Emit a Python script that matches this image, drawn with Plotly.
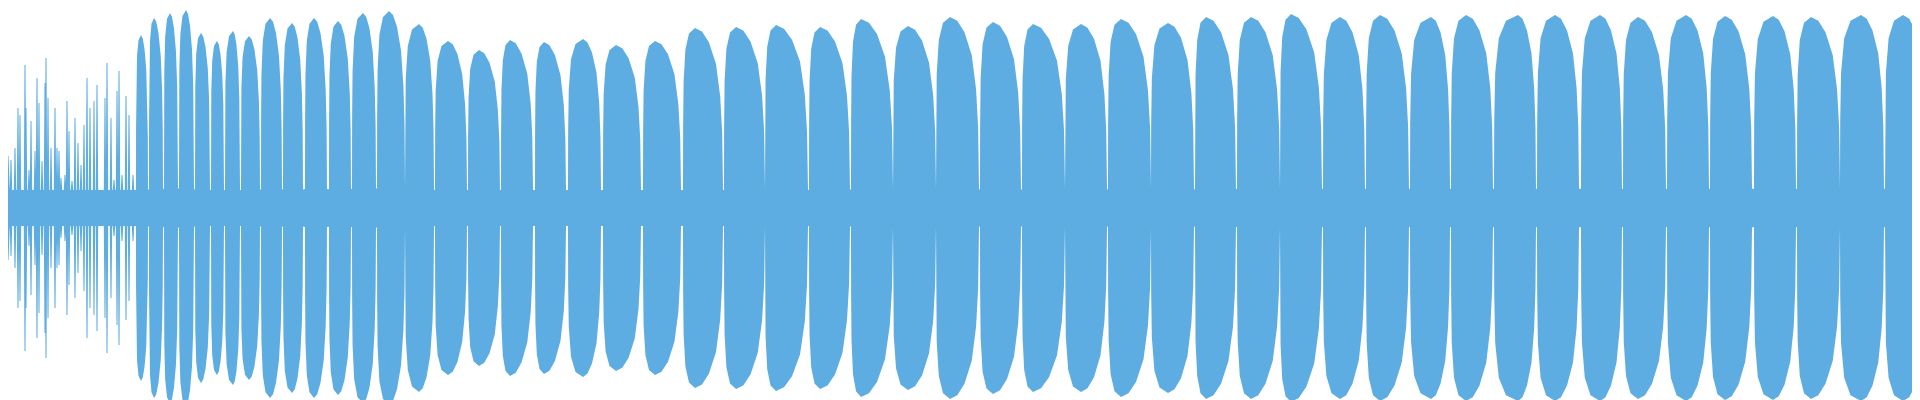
""" Waveform envelope drawn as a filled symmetric area """
import plotly.graph_objects as go

WAVE_COLOR = "#5dade2"
BASELINE = 18

# thin spikes in the noisy intro: position, amplitude
spike_x = [0, 3, 7, 10, 12, 17, 18, 21, 23, 27, 29, 31, 34, 37, 38, 40, 43, 47, 49,
           51, 53, 57, 59, 61, 64, 67, 70, 73, 76, 79, 82, 86, 89, 93, 97, 99, 103,
           106, 109, 111, 114, 118, 121, 125]
spike_amp = [52, 48, 60, 100, 93, 143, 100, 38, 87, 57, 130, 105, 47, 125, 150, 110,
             60, 100, 60, 57, 30, 33, 107, 77, 27, 90, 65, 43, 83, 130, 100, 107, 123,
             18, 110, 145, 90, 28, 117, 137, 33, 112, 93, 33]

# bursts: start, peak position, end, peak amplitude
lobe_start = [128, 141, 156, 171, 187, 203, 217, 233, 253, 275, 297, 321, 344, 369,
              397, 427, 460, 493, 527, 560, 595, 635, 675, 716, 757, 801, 843, 885,
              928, 972, 1014, 1057, 1100, 1143, 1187, 1229, 1272, 1315, 1358, 1402,
              1443, 1486, 1529, 1573, 1615, 1659, 1702, 1746, 1789, 1832, 1877]
lobe_peak = [133, 146, 162, 178, 193, 209, 225, 241, 262, 284, 306, 330, 355, 381,
             411, 440, 471, 502, 536, 575, 608, 647, 687, 728, 768, 812, 853, 900,
             942, 985, 1025, 1073, 1113, 1160, 1198, 1243, 1283, 1332, 1372, 1423,
             1458, 1510, 1547, 1592, 1630, 1678, 1717, 1765, 1803, 1853, 1895]
lobe_end = [140, 155, 170, 186, 202, 216, 232, 252, 274, 295, 319, 343, 368, 397,
            426, 459, 492, 525, 558, 593, 633, 673, 715, 757, 800, 842, 885, 928,
            971, 1013, 1057, 1099, 1143, 1186, 1228, 1272, 1314, 1357, 1401, 1442,
            1485, 1528, 1571, 1614, 1658, 1701, 1744, 1788, 1832, 1876, 1920]
lobe_amp = [173, 190, 195, 198, 175, 167, 177, 172, 190, 185, 190, 187, 195, 197,
            184, 167, 158, 168, 166, 169, 163, 167, 180, 181, 183, 181, 189, 182,
            191, 186, 184, 184, 189, 185, 191, 191, 194, 191, 193, 191, 193, 193,
            193, 193, 191, 193, 192, 192, 191, 193, 193]

# shape of one burst, read from a single lobe (fraction of run, fraction of peak)
rise_shape = [(0.0, 0.1), (0.01, 0.45), (0.05, 0.7), (0.2, 0.88), (0.5, 0.97), (1.0, 1.0)]
fall_shape = [(0.25, 0.98), (0.5, 0.92), (0.75, 0.8), (0.9, 0.62), (0.97, 0.42), (1.0, 0.1)]

xs, amps = [], []
for x, a in zip(spike_x, spike_amp):
    xs += [x - 1.2, x - 0.5, x + 0.5, x + 1.2]
    amps += [BASELINE, a, a, BASELINE]

for s, p, e, a in zip(lobe_start, lobe_peak, lobe_end, lobe_amp):
    for f, v in rise_shape:
        xs.append(s + f * (p - s))
        amps.append(max(BASELINE, v * a))
    for f, v in fall_shape:
        xs.append(p + f * (e - p))
        amps.append(max(BASELINE, v * a))

fig = go.Figure()
fig.add_trace(go.Scatter(x=xs, y=amps, mode="lines", line=dict(width=0, color=WAVE_COLOR),
                         hoverinfo="skip"))
fig.add_trace(go.Scatter(x=xs, y=[-v for v in amps], mode="lines", fill="tonexty",
                         fillcolor=WAVE_COLOR, line=dict(width=0, color=WAVE_COLOR),
                         hoverinfo="skip"))
fig.update_layout(
    width=1920, height=400,
    margin=dict(l=0, r=0, t=0, b=0),
    paper_bgcolor="white", plot_bgcolor="white",
    showlegend=False,
    xaxis=dict(visible=False, range=[0, 1920]),
    yaxis=dict(visible=False, range=[-200, 200]),
)
fig.write_html("out.html")
